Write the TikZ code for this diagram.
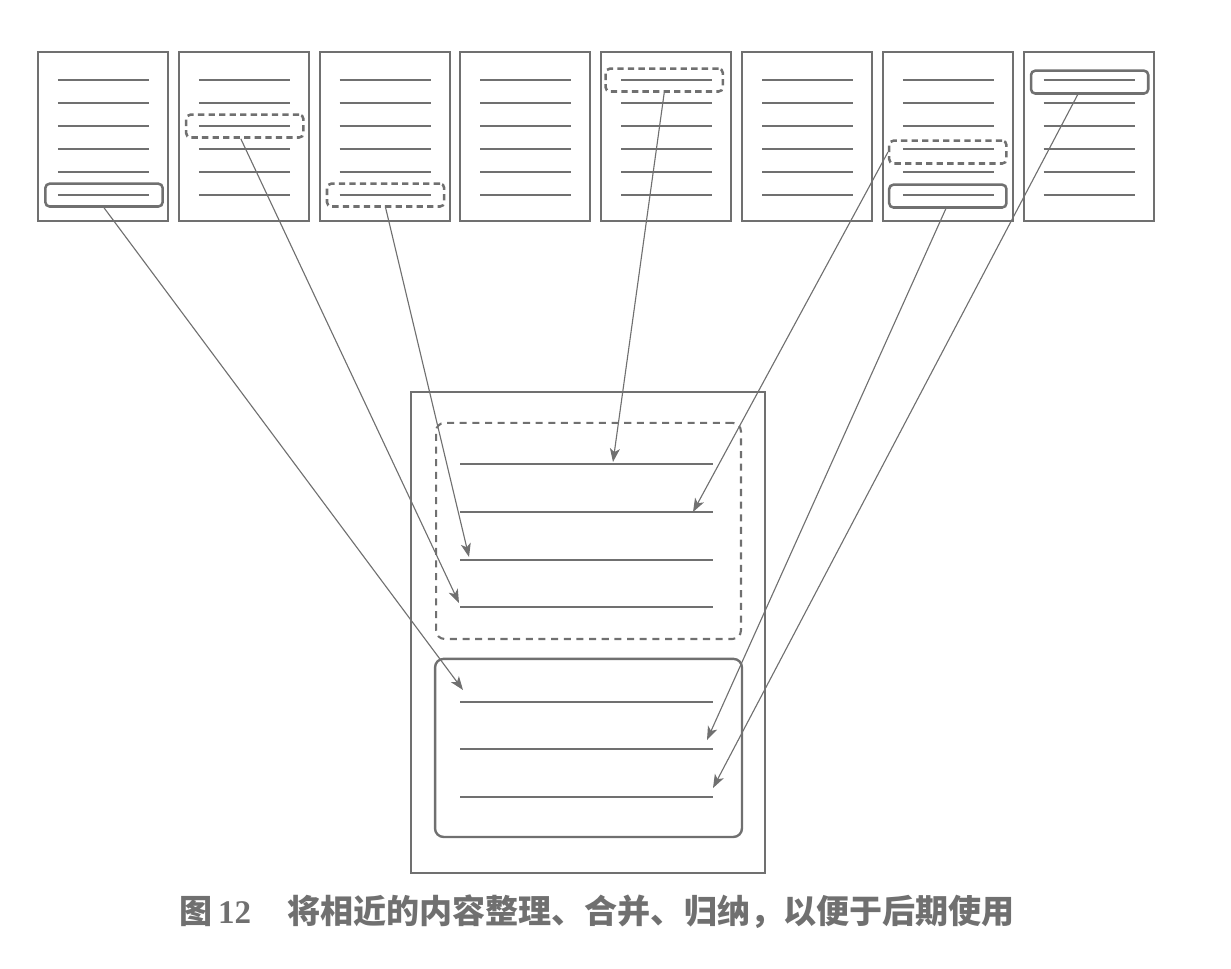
\documentclass[tikz,border=0pt]{standalone}
\usepackage{fontspec}
\usepackage{tikz}
\usetikzlibrary{arrows.meta, positioning}
\newfontfamily\cjk{Noto Sans CJK SC}
\newfontfamily\capnum{Liberation Serif}
\definecolor{inkgray}{RGB}{112,112,112}

\begin{document}
\begin{tikzpicture}[
    x=0.025cm, y=-0.025cm,
    node distance=0.22cm,
    page/.style={rectangle, draw=inkgray, line width=1.4pt, minimum width=3.25cm, minimum height=4.22cm, inner sep=0pt},
    txt/.style={draw=inkgray, line width=0.9pt},
    pick/.style={rectangle, rounded corners=3pt, draw=inkgray, line width=1.8pt, minimum width=2.93cm, minimum height=0.57cm, inner sep=0pt},
    dpick/.style={pick, dash pattern=on 4.5pt off 3pt},
    group/.style={rectangle, rounded corners=6pt, draw=inkgray, line width=1.5pt, inner sep=0pt},
    arrow/.style={draw=inkgray, line width=0.8pt, -{Stealth[length=3.4mm, width=2.5mm, inset=0.9mm]}}
]
    \useasboundingbox (0,0) rectangle (1231,968);

    % source pages
    \node[page] (p1) at (103,136.5) {};
    \node[page, right=of p1] (p2) {};
    \node[page, right=of p2] (p3) {};
    \node[page, right=of p3] (p4) {};
    \node[page, right=of p4] (p5) {};
    \node[page, right=of p5] (p6) {};
    \node[page, right=of p6] (p7) {};
    \node[page, right=of p7] (p8) {};
    \foreach \i in {1,...,8}
        \foreach \dy in {29,52,75,98,121,144}
            \draw[txt] ([shift={(21,\dy)}]p\i.north west) -- ++(91,0);

    % picked lines
    \node[pick] (sel1) at ([shift={(1,144)}]p1.north) {};
    \node[dpick] (sel2) at ([shift={(1,75)}]p2.north) {};
    \node[dpick] (sel3) at ([shift={(1,144)}]p3.north) {};
    \node[dpick] (sel5) at ([shift={(-2,29)}]p5.north) {};
    \node[dpick] (sel7a) at ([shift={(0,101)}]p7.north) {};
    \node[pick] (sel7b) at ([shift={(0,145)}]p7.north) {};
    \node[pick] (sel8) at ([shift={(1,31)}]p8.north) {};

    % merged page
    \node[page, line width=1.6pt, minimum width=8.85cm, minimum height=12.02cm] (doc) at (588,632.5) {};
    \node[group, dash pattern=on 5pt off 4pt, minimum width=7.62cm, minimum height=5.4cm] (draft) at ([shift={(0.5,140)}]doc.north) {};
    \node[group, line width=1.7pt, minimum width=7.67cm, minimum height=4.45cm] (final) at ([shift={(0.5,357)}]doc.north) {};
    \foreach \dy in {73,121,169,216,311,358,406}
        \draw[txt] ([shift={(-128,\dy)}]doc.north) -- ++(253,0);

    \coordinate (in1) at (463,690);
    \coordinate (in2) at (459,603);
    \coordinate (in3) at (469,557);
    \coordinate (in5) at (613,462);
    \coordinate (in7a) at (693,512);
    \coordinate (in7b) at (707,740);
    \coordinate (in8) at (713,788);

    \draw[arrow] (sel1.south) -- (in1);
    \draw[arrow] ([xshift=-0.1cm]sel2.south) -- (in2);
    \draw[arrow] (sel3.south) -- (in3);
    \draw[arrow] (sel5.south) -- (in5);
    \draw[arrow] (sel7a.west) -- (in7a);
    \draw[arrow] ([xshift=-0.05cm]sel7b.south) -- (in7b);
    \draw[arrow] ([xshift=-0.3cm]sel8.south) -- (in8);

    % caption
    \node[text=inkgray, font={\cjk\bfseries\fontsize{23.5}{28}\selectfont}] (cap) at (597,912)
        {图\,{\capnum\bfseries 12}\hspace{1.1em}将相近的内容整理、合并、归纳，以便于后期使用};
\end{tikzpicture}
\end{document}
